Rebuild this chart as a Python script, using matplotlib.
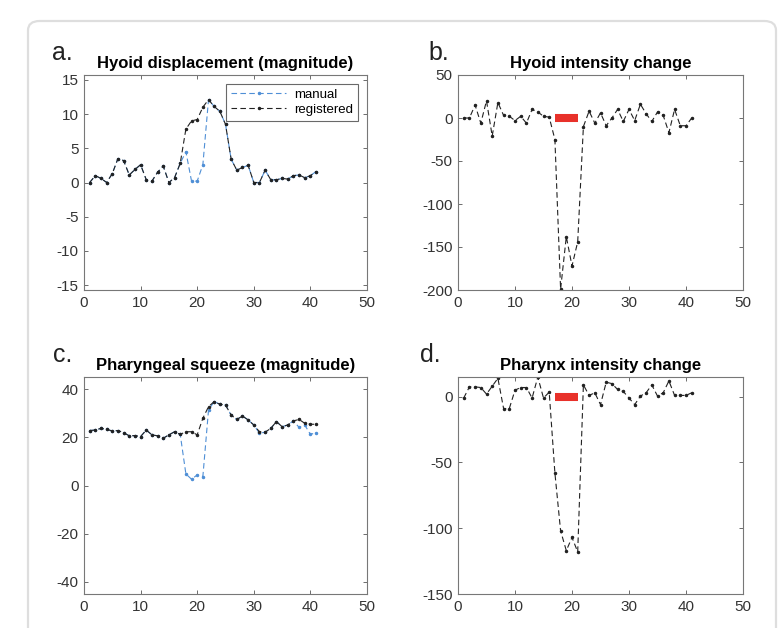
import numpy as np
import matplotlib
matplotlib.use("Agg")
import matplotlib.pyplot as plt
from matplotlib.patches import FancyBboxPatch

plt.rcParams['font.family'] = ['Liberation Sans', 'DejaVu Sans']
plt.rcParams['axes.unicode_minus'] = False

# frame index
frames = np.arange(1, 42)

# a. hyoid displacement
hyoid_disp_reg = [0.0, 1.0, 0.6, 0.0, 1.3, 3.5, 3.2, 1.1, 1.9, 2.6,
                  0.4, 0.2, 1.5, 2.4, 0.0, 0.7, 2.8, 7.8, 9.0, 9.2,
                  11.0, 12.1, 11.1, 10.4, 8.5, 3.4, 1.8, 2.2, 2.5, 0.0,
                  0.0, 1.8, 0.4, 0.4, 0.6, 0.5, 1.0, 1.1, 0.7, 1.0, 1.6]
hyoid_disp_man = [0.0, 1.0, 0.6, 0.0, 1.3, 3.5, 3.2, 1.1, 1.9, 2.6,
                  0.4, 0.2, 1.5, 2.4, 0.0, 0.7, 2.8, 4.5, 0.2, 0.2,
                  2.6, 12.1, 11.1, 10.4, 8.5, 3.4, 1.8, 2.2, 2.5, 0.0,
                  0.0, 1.8, 0.4, 0.4, 0.6, 0.5, 1.0, 1.1, 0.7, 1.0, 1.6]

# b. hyoid intensity change
hyoid_int = [0, 0, 15, -6, 20, -21, 18, 3, 2, -3,
             2, -6, 10, 7, 2, 1, -25, -199, -138, -172,
             -144, -10, 8, -6, 6, -9, 0, 10, -4, 10,
             -3, 16, 5, -4, 7, 3, -17, 10, -9, -9, 0]

# c. pharyngeal squeeze
phar_sq_reg = [22.8, 23.0, 23.7, 23.3, 22.6, 22.8, 21.9, 20.6, 20.7, 20.3,
               23.0, 21.0, 20.6, 19.6, 21.0, 22.3, 21.2, 22.3, 22.3, 21.0,
               27.9, 32.7, 34.8, 33.7, 33.4, 29.2, 27.4, 28.8, 27.2, 25.1,
               22.3, 22.1, 23.7, 26.5, 24.4, 25.1, 26.8, 27.4, 25.8, 25.4, 25.4]
phar_sq_man = [22.8, 23.0, 23.7, 23.3, 22.6, 22.8, 21.9, 20.6, 20.7, 20.3,
               23.0, 21.0, 20.6, 19.6, 21.0, 22.3, 21.2, 4.8, 2.6, 4.4,
               3.7, 31.3, 34.8, 33.7, 33.4, 29.2, 27.4, 28.8, 27.2, 25.1,
               21.7, 22.1, 23.7, 26.5, 24.4, 25.1, 26.8, 24.1, 25.1, 21.2, 21.9]

# d. pharynx intensity change
phar_int = [-1, 7.5, 7.5, 7, 2, 8, 14, -9, -9, 5,
            7, 7, -1, 15, -1, 3.5, -58, -102, -117, -107,
            -118, 9, 1, 3, -6, 11, 10, 5.5, 4, -1,
            -6, 0.5, 3, 9, 0.5, 3, 12, 1, 1, 1, 3]

# swallow window (red bar)
bar_range = [17, 21]

fig = plt.figure(figsize=(7.8, 6.28), dpi=100)

# rounded frame round the figure
frame = FancyBboxPatch((28 / 780, -0.05), 748 / 780, 1 - 21 / 628 + 0.05,
                       boxstyle="round,pad=0,rounding_size=0.015",
                       transform=fig.transFigure, facecolor='none',
                       edgecolor='#dedede', linewidth=1.6)
fig.patches.append(frame)

blue = '#4f8fd6'
black = '#222222'
line_kw = dict(linestyle='--', marker='.', markersize=3, linewidth=0.8, dashes=(5, 3))

ax_a = fig.add_axes([84 / 780, 1 - 290 / 628, 283 / 780, 215 / 628])
ax_b = fig.add_axes([458 / 780, 1 - 290 / 628, 285 / 780, 215 / 628])
ax_c = fig.add_axes([84 / 780, 1 - 594 / 628, 283 / 780, 217 / 628])
ax_d = fig.add_axes([458 / 780, 1 - 594 / 628, 285 / 780, 217 / 628])


def style(ax, title, ylim, yticks):
    ax.set_xlim(0, 50)
    ax.set_xticks(np.arange(0, 51, 10))
    ax.set_ylim(*ylim)
    ax.set_yticks(yticks)
    ax.tick_params(direction='in', length=3, width=0.6, top=True, right=True,
                   labelsize=11, colors='#555555', labelcolor='#333333', pad=4)
    for s in ax.spines.values():
        s.set_color('#777777')
        s.set_linewidth(0.8)
    ax.set_title(title, fontsize=12, fontweight='bold', pad=5)


# a
ax_a.plot(frames, hyoid_disp_man, color=blue, label='manual', **line_kw)
ax_a.plot(frames, hyoid_disp_reg, color=black, label='registered', **line_kw)
style(ax_a, 'Hyoid displacement (magnitude)', (-15.7, 15.7), np.arange(-15, 16, 5))
leg = ax_a.legend(loc='upper right', fontsize=9.5, frameon=True, fancybox=False,
                  handlelength=4.2, borderaxespad=0.7, labelspacing=0.2,
                  borderpad=0.35, handletextpad=0.6)
leg.get_frame().set_edgecolor('#444444')
leg.get_frame().set_linewidth(0.8)

# b
ax_b.plot(frames, hyoid_int, color=black, **line_kw)
ax_b.plot(bar_range, [0, 0], color='#e8312a', linewidth=5.8, solid_capstyle='butt')
style(ax_b, 'Hyoid intensity change', (-200, 50), np.arange(-200, 51, 50))

# c
ax_c.plot(frames, phar_sq_man, color=blue, **line_kw)
ax_c.plot(frames, phar_sq_reg, color=black, **line_kw)
style(ax_c, 'Pharyngeal squeeze (magnitude)', (-45, 45), np.arange(-40, 41, 20))

# d
ax_d.plot(frames, phar_int, color=black, **line_kw)
ax_d.plot(bar_range, [0, 0], color='#e8312a', linewidth=5.8, solid_capstyle='butt')
style(ax_d, 'Pharynx intensity change', (-150, 15), np.arange(-150, 1, 50))

# panel letters
for lbl, x, y in [('a.', 52, 60), ('b.', 428, 60), ('c.', 53, 362), ('d.', 420, 362)]:
    fig.text(x / 780, 1 - y / 628, lbl, fontsize=18, color='#222222',
             ha='left', va='baseline')

fig.savefig('out.png', dpi=100)
